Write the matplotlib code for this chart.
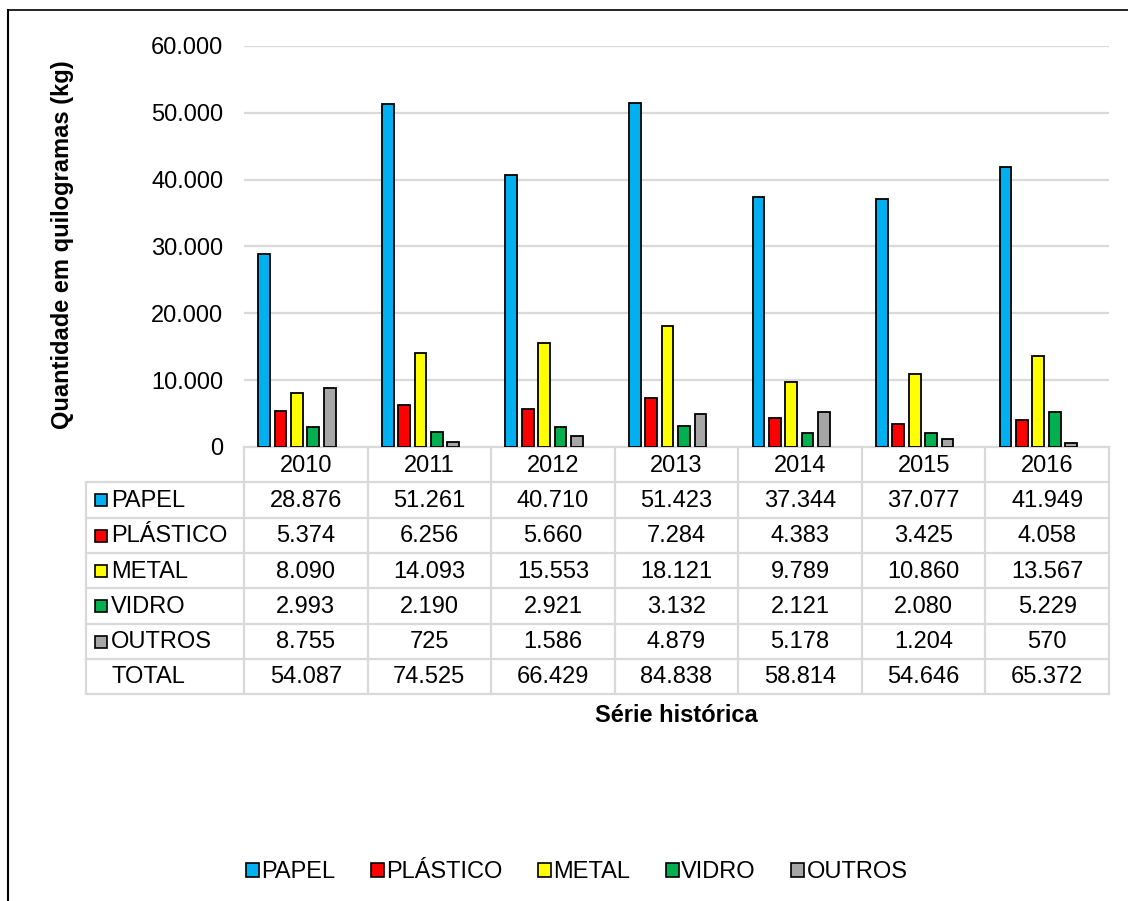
import numpy as np
import matplotlib.pyplot as plt
from matplotlib.patches import Rectangle

plt.rcParams['font.family'] = ['Liberation Sans', 'DejaVu Sans']

anos = ['2010', '2011', '2012', '2013', '2014', '2015', '2016']
materiais = ['PAPEL', 'PLÁSTICO', 'METAL', 'VIDRO', 'OUTROS']
papel = [28876, 51261, 40710, 51423, 37344, 37077, 41949]
plastico = [5374, 6256, 5660, 7284, 4383, 3425, 4058]
metal = [8090, 14093, 15553, 18121, 9789, 10860, 13567]
vidro = [2993, 2190, 2921, 3132, 2121, 2080, 5229]
outros = [8755, 725, 1586, 4879, 5178, 1204, 570]
total = [54087, 74525, 66429, 84838, 58814, 54646, 65372]
cores = ['#00B0F0', '#FF0000', '#FFFF00', '#00B050', '#A6A6A6']

series = [papel, plastico, metal, vidro, outros]

def fmt(v):
    return f'{v:,}'.replace(',', '.')

W, H = 1128, 901
fig = plt.figure(figsize=(W / 100, H / 100), dpi=100)

def fx(px):
    return px / W

def fy(py):
    return 1 - py / H

FS = 17
GRID = '#D9D9D9'

# area do grafico (pixels)
x0, x1 = 244, 1109
y0, y1 = 447, 46

ax = fig.add_axes([fx(x0), fy(y0), fx(x1) - fx(x0), fy(y1) - fy(y0)])
x = np.arange(len(anos))
passo = 0.1327
larg = 0.095
for k, (s, c) in enumerate(zip(series, cores)):
    ax.bar(x + (k - 2) * passo - 0.072, s, larg, color=c, edgecolor='black',
           linewidth=1.3, zorder=3, label=materiais[k])

ax.set_xlim(-0.5, len(anos) - 0.5)
ax.set_ylim(0, 60000)
ax.set_yticks(range(0, 60001, 10000))
ax.set_yticklabels([fmt(v) for v in range(0, 60001, 10000)], fontsize=FS)
ax.tick_params(axis='y', length=0, pad=15)
ax.set_xticks([])
for sp in ax.spines.values():
    sp.set_visible(False)
ax.yaxis.grid(True, color=GRID, linewidth=1.6, zorder=0)
ax.set_axisbelow(True)

# tabela de dados + moldura
ov = fig.add_axes([0, 0, 1, 1], zorder=-1)
ov.set_xlim(0, W)
ov.set_ylim(H, 0)
ov.axis('off')

# moldura (so topo e esquerda visiveis)
ov.plot([8, W], [10, 10], color='black', linewidth=1.2)
ov.plot([8, 8], [10, H], color='black', linewidth=1.5)

rh = 35.3
ys = [y0 + rh * k for k in range(8)]
xs = [86] + [x0 + (x1 - x0) * i / len(anos) for i in range(len(anos) + 1)]

for k, yy in enumerate(ys):
    ov.plot([x0 if k == 0 else 86, x1], [yy, yy], color=GRID, linewidth=1.6)
for i, xx in enumerate(xs):
    ov.plot([xx, xx], [ys[1] if i == 0 else ys[0], ys[-1]], color=GRID, linewidth=1.6)

for i, a in enumerate(anos):
    ov.text((xs[i + 1] + xs[i + 2]) / 2, (ys[0] + ys[1]) / 2 + 1, a,
            ha='center', va='center', fontsize=FS)

linhas = series + [total]
nomes = materiais + ['TOTAL']
for r, (nome, vals) in enumerate(zip(nomes, linhas)):
    yc = (ys[r + 1] + ys[r + 2]) / 2 + 1
    if r < len(materiais):
        ov.add_patch(Rectangle((94.5, yc - 6.5), 12, 12, facecolor=cores[r],
                               edgecolor='black', linewidth=1.2))
    ov.text(111, yc, nome, ha='left', va='center', fontsize=FS)
    for i, v in enumerate(vals):
        ov.text((xs[i + 1] + xs[i + 2]) / 2, yc, fmt(v),
                ha='center', va='center', fontsize=FS)

fig.text(fx(63), fy(245), 'Quantidade em quilogramas (kg)', rotation=90,
         ha='center', va='center', fontsize=FS, fontweight='bold')
fig.text(fx(676), fy(716), 'Série histórica', ha='center', va='center',
         fontsize=FS, fontweight='bold')

handles = [Rectangle((0, 0), 1, 1, facecolor=c, edgecolor='black', linewidth=1.2)
           for c in cores]
fig.legend(handles, materiais, loc='center', bbox_to_anchor=(fx(577), fy(872)),
           ncol=5, frameon=False, fontsize=FS, handlelength=0.55,
           handleheight=0.55, handletextpad=0.1, columnspacing=1.5)

fig.savefig('out.png', dpi=100)
